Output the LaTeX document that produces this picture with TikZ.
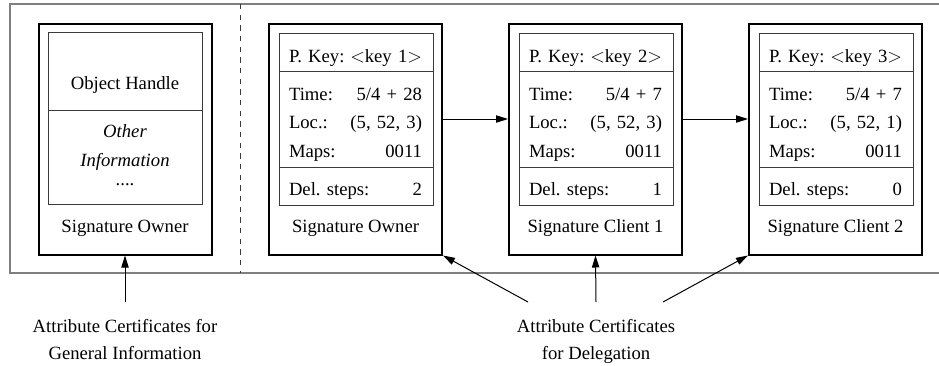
\documentclass[tikz,border=0pt]{standalone}
\usepackage{fontspec}
\setmainfont{Liberation Serif}
\usetikzlibrary{arrows.meta,positioning,calc}
\definecolor{ink}{HTML}{000000}
\definecolor{ink2}{HTML}{3A3A3A}
\definecolor{ink3}{HTML}{7F7F7F}
\tikzset{
  >={Triangle[length=9pt,width=5.5pt]},
  cardbox/.style={draw=ink, line width=1.5pt, minimum width=129.75pt, minimum height=173.25pt, inner sep=0pt},
  innerbox/.style={draw=ink2, line width=0.7pt, minimum width=115.5pt, minimum height=129pt, inner sep=0pt},
  rowtxt/.style={font=\fontsize{14}{17}\selectfont, anchor=base, text width=99.75pt, inner sep=0pt},
  ctxt/.style={font=\fontsize{14}{17}\selectfont, anchor=base, inner sep=0pt},
  sep/.style={draw=ink2, line width=0.7pt},
  arr/.style={->, draw=ink, line width=0.75pt},
  lbl/.style={font=\fontsize{14}{20}\selectfont, align=center, anchor=north, inner sep=0pt},
}
\begin{document}
\begin{tikzpicture}[x=0.75pt, y=-0.75pt]
  \useasboundingbox (0,0) rectangle (939,365);
  \clip (0,0) rectangle (939,365);
  % frame and split
  \draw[ink3, line width=1.5pt] (10,4) rectangle (950,272.5);
  \draw[ink2, line width=0.7pt, dash pattern=on 4pt off 4pt] (240,4) -- (240,272.5);
  % general information
  \node[cardbox] (owner) at (125,139) {};
  \node[innerbox] (gin) at (125.5,118.5) {};
  \draw[sep] (gin.west |- 0,110) -- (gin.east |- 0,110);
  \node[ctxt] (oh) at (125,89) {Object Handle};
  \node[ctxt] (oth) at (125,137) {\itshape Other};
  \node[ctxt] (inf) at (125,166) {\itshape Information};
  \node[ctxt] (dots) at (125,185) {....};
  \node[ctxt] (on) at (125,232) {Signature Owner};
  % delegation chain
  \foreach \i/\x/\tm/\loc/\del/\who in {1/355.5/{5/4 + 28}/{(5, 52, 3)}/2/Owner,
      2/595.5/{5/4 + 7}/{(5, 52, 3)}/1/Client 1, 3/835.5/{5/4 + 7}/{(5, 52, 1)}/0/Client 2} {
    \node[cardbox] (card\i) at (\x,139) {};
    \node[innerbox] (in\i) at (\x+0.5,119) {};
    \draw[sep] (in\i.west |- 0,71.5) -- (in\i.east |- 0,71.5)
      (in\i.west |- 0,167.5) -- (in\i.east |- 0,167.5);
    \node[rowtxt] (pk\i) at (\x,62.5) {P. Key:\hfill$<$key \i$>$};
    \node[rowtxt] (tm\i) at (\x,100) {Time:\hfill \tm};
    \node[rowtxt] (lc\i) at (\x,128.5) {Loc.:\hfill \loc};
    \node[rowtxt] (mp\i) at (\x,157) {Maps:\hfill 0011};
    \node[rowtxt] (ds\i) at (\x,195) {Del.\ steps:\hfill \del};
    \node[ctxt] (nm\i) at (\x,232) {Signature \who};
  }
  \draw[arr] (card1.east |- in1.center) -- (card2.west |- in2.center);
  \draw[arr] (card2.east |- in2.center) -- (card3.west |- in3.center);
  % certificates
  \coordinate (gcert) at (125,302);
  \coordinate (dc1) at (528,302);
  \coordinate (dc2) at (596,302);
  \coordinate (dc3) at (663,302);
  \draw[arr] (gcert) -- (owner.south);
  \draw[arr] (dc1) -- (card1.south east);
  \draw[arr] (dc2) -- (card2.south);
  \draw[arr] (dc3) -- (card3.south west);
  \node[lbl] (glab) at (125,319) {Attribute Certificates for\\General Information};
  \node[lbl] (dlab) at (596,319) {Attribute Certificates\\for Delegation};
\end{tikzpicture}
\end{document}
